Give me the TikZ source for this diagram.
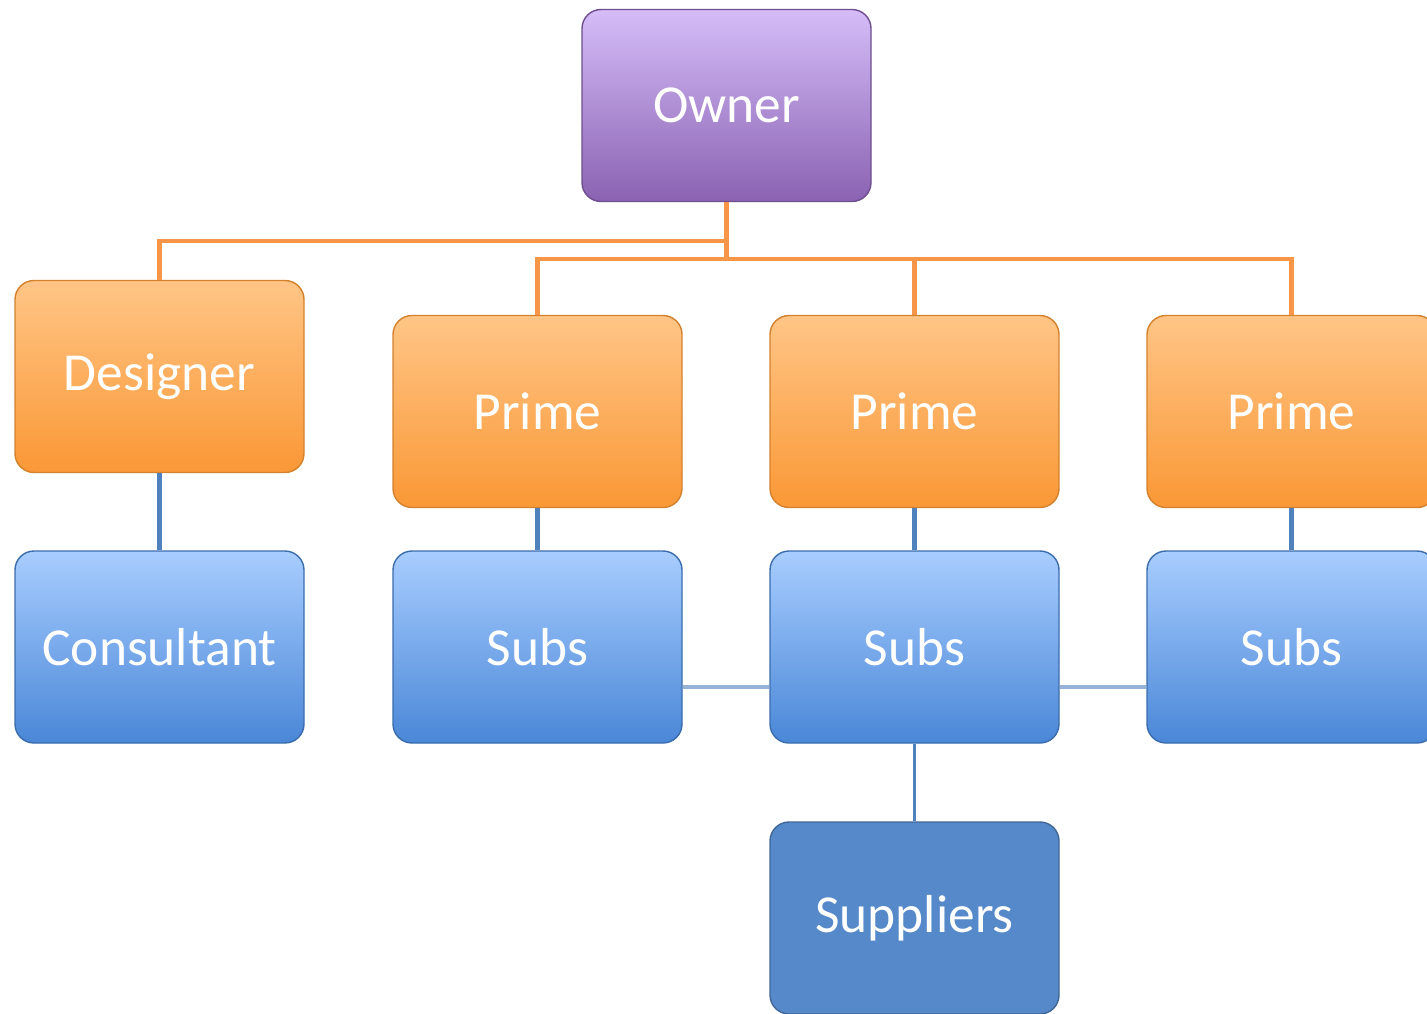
\documentclass[tikz,border=0pt]{standalone}
\usepackage{fontspec}
\setmainfont{Carlito}
\usetikzlibrary{positioning}

\definecolor{ownertop}{HTML}{D5BDF8}
\definecolor{ownerbot}{HTML}{8A62B2}
\definecolor{orangetop}{HTML}{FFC586}
\definecolor{orangebot}{HTML}{FA9836}
\definecolor{bluetop}{HTML}{A8CDFF}
\definecolor{bluebot}{HTML}{4A87D7}
\definecolor{supfill}{HTML}{5689C9}
\definecolor{orgorange}{HTML}{F79646}
\definecolor{orgblue}{HTML}{4F81BD}
\definecolor{orglight}{HTML}{95B3D7}

\tikzset{
  orgbox/.style={rectangle, rounded corners=0.19cm, minimum width=2.89cm,
    minimum height=1.92cm, inner sep=0pt, text=white,
    font=\fontsize{15.2}{18}\selectfont},
  ownerbox/.style={orgbox, top color=ownertop, bottom color=ownerbot, draw=ownerbot!80!black, thin},
  orangebox/.style={orgbox, top color=orangetop, bottom color=orangebot, draw=orangebot!85!black, thin},
  bluebox/.style={orgbox, top color=bluetop, bottom color=bluebot, draw=bluebot!80!black, thin},
  supbox/.style={orgbox, fill=supfill, draw=supfill!75!black, thin},
  orgline/.style={draw=orgorange, line width=1.2pt},
  subline/.style={draw=orgblue, line width=1.2pt},
  peerline/.style={draw=orglight, line width=0.9pt}
}

\begin{document}
\begin{tikzpicture}
\useasboundingbox (0,0) rectangle (14.27,-10.13);
\clip (0,0) rectangle (14.27,-10.13);

\node[ownerbox] (owner) at (7.265, -1.055) {Owner};
\node[orangebox] (designer) at (1.595, -3.765) {Designer};
\node[bluebox] (consultant) at (1.595, -6.47) {Consultant};

\foreach \i/\x in {1/5.375, 2/9.145, 3/12.915} {
  \node[orangebox] (prime \i) at (\x, -4.115) {Prime};
  \node[bluebox] (subs \i) at (\x, -6.47) {Subs};
}
\node[supbox] (suppliers) at (9.145, -9.18) {Suppliers};

% owner to designer and primes
\draw[orgline] (owner.south) -- ([yshift=-0.39cm]owner.south) -| (designer.north);
\foreach \i in {1, 2, 3}
  \draw[orgline] (owner.south) -- ([yshift=-0.57cm]owner.south) -| (prime \i.north);

\draw[subline] (designer.south) -- (consultant.north);
\foreach \i in {1, 2, 3}
  \draw[subline] (prime \i.south) -- (subs \i.north);

\draw[peerline] ([yshift=-0.4cm]subs 1.east) -- ([yshift=-0.4cm]subs 2.west);
\draw[peerline] ([yshift=-0.4cm]subs 2.east) -- ([yshift=-0.4cm]subs 3.west);
\draw[subline, line width=0.9pt] (subs 2.south) -- (suppliers.north);
\end{tikzpicture}
\end{document}
